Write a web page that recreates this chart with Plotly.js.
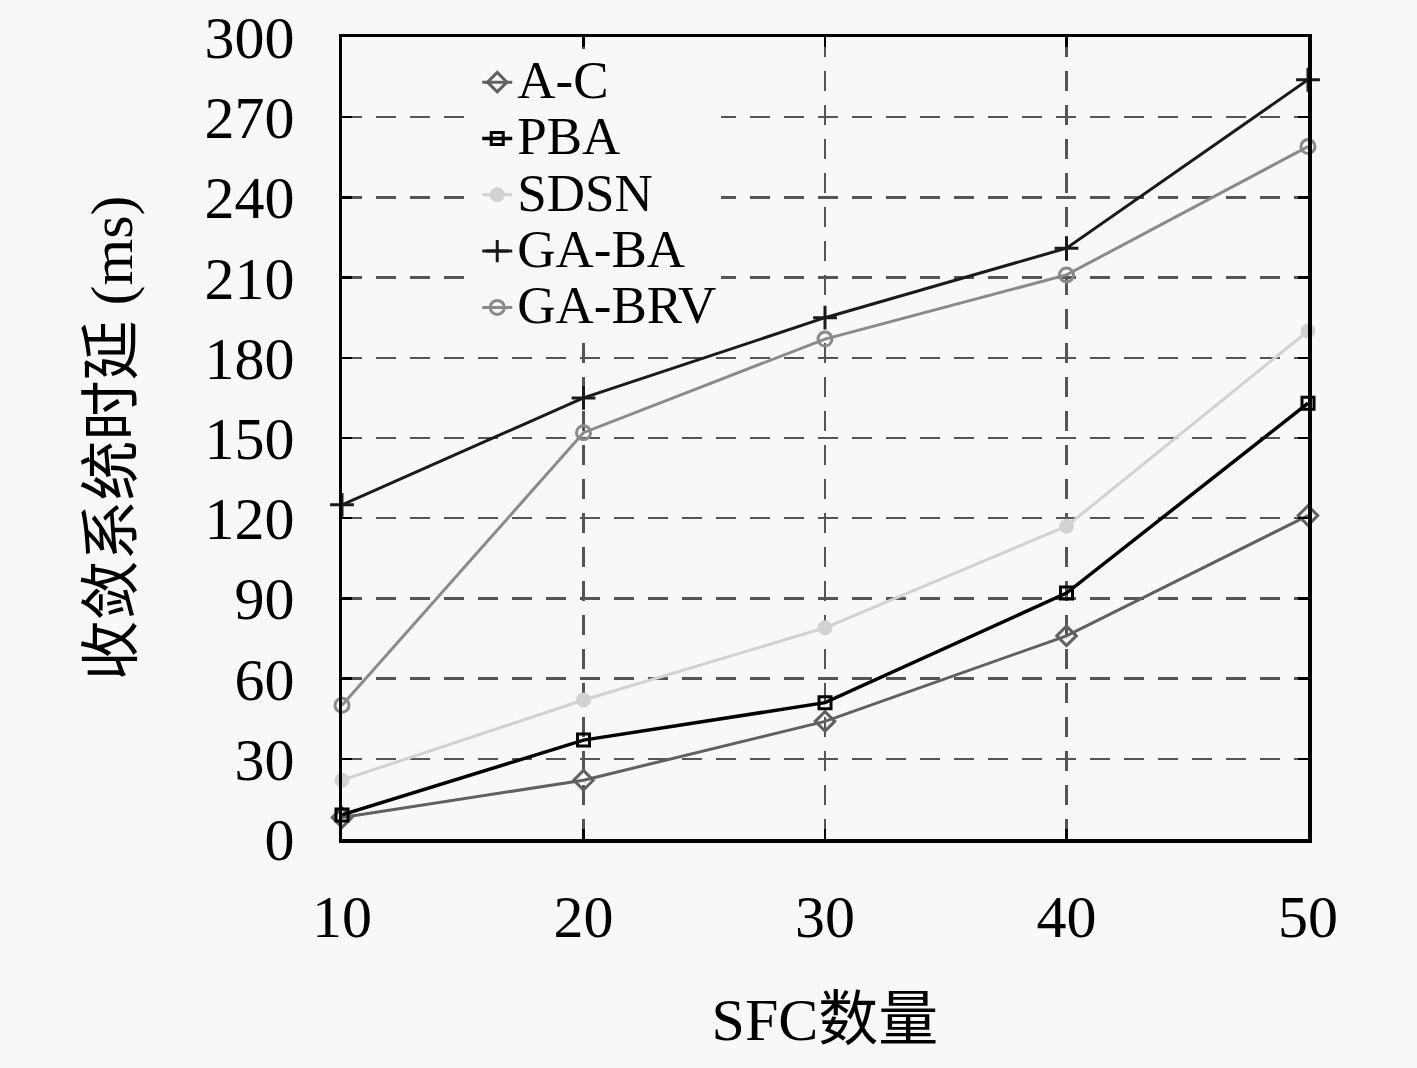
<!DOCTYPE html>
<html>
<head>
<meta charset="utf-8">
<script src="https://cdn.plot.ly/plotly-3.0.1.min.js"></script>
<style>html,body{margin:0;padding:0;background:#f8f8f8;}#chart{width:1417px;height:1068px;}</style>
</head>
<body>
<div id="chart"></div>
<script>
const sfcCounts = [10, 20, 30, 40, 50];
const seriesNames = ['A-C', 'PBA', 'SDSN', 'GA-BA', 'GA-BRV'];
const acValues = [8, 22, 44, 76, 121];
const pbaValues = [9, 37, 51, 92, 163];
const sdsnValues = [22, 52, 79, 117, 190];
const gabaValues = [125, 165, 195, 221, 284];
const gabrvValues = [50, 152, 187, 211, 259];
const yTicks = [0, 30, 60, 90, 120, 150, 180, 210, 240, 270, 300];
const xTicks = [10, 20, 30, 40, 50];

const serif = '"Liberation Serif", "DejaVu Serif", "Noto Sans CJK SC", serif';
const cjk = '"Liberation Serif", "Noto Sans CJK SC", serif';

const styles = [
  {color: '#606060', width: 3, symbol: 'diamond-open', size: 15, mcolor: '#606060'},
  {color: '#000000', width: 3.5, symbol: 'square-open', size: 12, mcolor: '#000000'},
  {color: '#d2d2d2', width: 3, symbol: 'circle', size: 12, mcolor: '#d2d2d2'},
  {color: '#1a1a1a', width: 3, symbol: 'cross-thin-open', size: 17, mcolor: '#1a1a1a'},
  {color: '#8a8a8a', width: 3, symbol: 'circle-open', size: 14, mcolor: '#8a8a8a'}
];
const allValues = [acValues, pbaValues, sdsnValues, gabaValues, gabrvValues];

const traces = allValues.map((vals, i) => ({
  x: sfcCounts,
  y: vals,
  type: 'scatter',
  mode: 'lines+markers',
  name: '<span style="font-size:53px">' + seriesNames[i] + '</span>',
  line: {color: styles[i].color, width: styles[i].width},
  marker: {symbol: styles[i].symbol, size: styles[i].size, color: styles[i].mcolor,
           line: {color: styles[i].mcolor, width: 3}},
  cliponaxis: false
}));

const layout = {
  width: 1417, height: 1068,
  paper_bgcolor: '#f8f8f8', plot_bgcolor: '#f8f8f8',
  margin: {l: 342, r: 109, t: 37, b: 229},
  showlegend: true,
  legend: {
    x: 0.14, y: 0.985, xanchor: 'left', yanchor: 'top',
    bgcolor: '#f8f8f8', borderwidth: 0,
    font: {family: serif, size: 41, color: '#000'},
    itemwidth: 30, tracegroupgap: 0
  },
  xaxis: {
    range: [10, 50], tickvals: xTicks, ticktext: xTicks.map(String),
    showgrid: true, gridcolor: '#555', gridwidth: 2.5, griddash: '20px,14px',
    zeroline: false, showline: true, linecolor: '#000', linewidth: 3.5, mirror: 'ticks',
    ticks: 'inside', ticklen: 10, tickwidth: 2.5, tickcolor: '#000',
    ticklabelstandoff: 22,
    tickfont: {family: serif, size: 60, color: '#000'},
    title: {text: 'SFC数量', font: {family: cjk, size: 60, color: '#000'}, standoff: 50},
    automargin: false
  },
  yaxis: {
    range: [0, 300], tickvals: yTicks, ticktext: yTicks.map(String),
    showgrid: true, gridcolor: '#555', gridwidth: 2.5, griddash: '20px,14px',
    zeroline: false, showline: true, linecolor: '#000', linewidth: 3.5, mirror: 'ticks',
    ticks: 'inside', ticklen: 10, tickwidth: 2.5, tickcolor: '#000',
    ticklabelstandoff: 32,
    tickfont: {family: serif, size: 60, color: '#000'},
    title: {text: '收敛系统时延 (ms)', font: {family: cjk, size: 60, color: '#000'}, standoff: 53},
    automargin: false
  }
};

Plotly.newPlot('chart', traces, layout, {displayModeBar: false, staticPlot: true});
</script>
</body>
</html>
